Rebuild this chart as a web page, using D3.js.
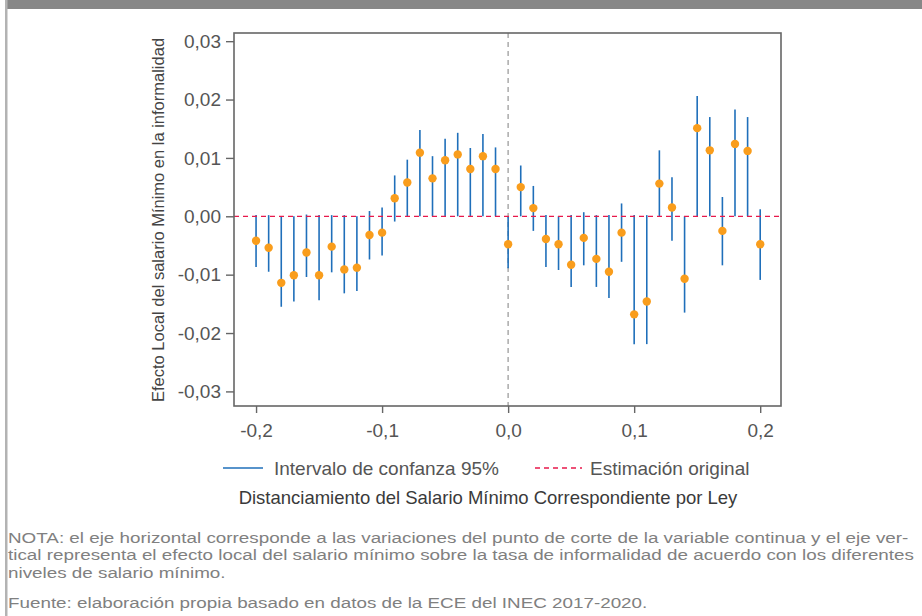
<!DOCTYPE html>
<html>
<head>
<meta charset="utf-8">
<script src="https://cdn.jsdelivr.net/npm/d3@7"></script>
<style>
  html, body { margin: 0; padding: 0; background: #fff; }
  svg { display: block; font-family: "Liberation Sans", Arial, sans-serif; }
</style>
</head>
<body>
<div id="chart"></div>
<script>
// cut-off shifts (x) and local effect estimates
const cutoffs = [-0.20, -0.19, -0.18, -0.17, -0.16, -0.15, -0.14, -0.13, -0.12, -0.11,
                 -0.10, -0.09, -0.08, -0.07, -0.06, -0.05, -0.04, -0.03, -0.02, -0.01,
                  0.00,  0.01,  0.02,  0.03,  0.04,  0.05,  0.06,  0.07,  0.08,  0.09,
                  0.10,  0.11,  0.12,  0.13,  0.14,  0.15,  0.16,  0.17,  0.18,  0.19, 0.20];
const estimates = [-0.0042, -0.0054, -0.0114, -0.0101, -0.0062, -0.0101, -0.0052, -0.0091, -0.0088, -0.0032,
                   -0.0028,  0.0031,  0.0058,  0.0109,  0.0065,  0.0096,  0.0106,  0.0081,  0.0103,  0.0081,
                   -0.0048,  0.0050,  0.0014, -0.0039, -0.0048, -0.0083, -0.0037, -0.0073, -0.0095, -0.0028,
                   -0.0168, -0.0146,  0.0056,  0.0015, -0.0107,  0.0151,  0.0113, -0.0025,  0.0124,  0.0112, -0.0048];
const ciUpper = [ 0.0002,  0.0002,  0.0000,  0.0000,  0.0003,  0.0002,  0.0002,  0.0002,  0.0000,  0.0009,
                  0.0015,  0.0070,  0.0097,  0.0148,  0.0103,  0.0133,  0.0143,  0.0117,  0.0141,  0.0118,
                  0.0000,  0.0087,  0.0052,  0.0002,  0.0000,  0.0002,  0.0007,  0.0002,  0.0002,  0.0022,
                  0.0002,  0.0002,  0.0113,  0.0067,  0.0000,  0.0206,  0.0170,  0.0033,  0.0183,  0.0170,  0.0012];
const ciLower = [-0.0087, -0.0095, -0.0155, -0.0146, -0.0104, -0.0144, -0.0096, -0.0132, -0.0128, -0.0074,
                 -0.0067, -0.0009,  0.0000,  0.0000,  0.0000,  0.0000,  0.0000,  0.0000,  0.0000,  0.0000,
                 -0.0089,  0.0000, -0.0025, -0.0087, -0.0092, -0.0121, -0.0084, -0.0121, -0.0140, -0.0078,
                 -0.0219, -0.0219,  0.0000, -0.0042, -0.0165,  0.0000,  0.0000, -0.0084,  0.0000,  0.0000, -0.0109];

const xTicks = [-0.2, -0.1, 0, 0.1, 0.2];
const yTicks = [-0.03, -0.02, -0.01, 0, 0.01, 0.02, 0.03];
const noteLines = [
  "NOTA: el eje horizontal corresponde a las variaciones del punto de corte de la variable continua y el eje ver-",
  "tical representa el efecto local del salario mínimo sobre la tasa de informalidad de acuerdo con los diferentes",
  "niveles de salario mínimo."
];
const sourceLine = "Fuente: elaboración propia basado en datos de la ECE del INEC 2017-2020.";

const width = 922, height = 616;
const margin = { top: 33, right: 141, bottom: 210, left: 234 };
const w = width - margin.left - margin.right;
const h = height - margin.top - margin.bottom;

const comma = f => d => d3.format(f)(d).replace(".", ",").replace("−", "-");

const svg = d3.select("#chart").append("svg")
  .attr("width", width)
  .attr("height", height);

// page decoration: grey band on top and thin rule on the left
svg.append("rect").attr("x", 7).attr("y", 0).attr("width", width - 7).attr("height", 9).attr("fill", "#878787");
svg.append("rect").attr("x", 5).attr("y", 0).attr("width", 2.5).attr("height", height).attr("fill", "#b3b3b3");

const x = d3.scaleLinear().domain([-0.2175, 0.2165]).range([0, w]);
const y = d3.scaleLinear().domain([-0.0325, 0.0314]).range([h, 0]);

const g = svg.append("g").attr("transform", `translate(${margin.left},${margin.top})`);

const data = cutoffs.map((c, i) => ({ c, est: estimates[i], lo: ciLower[i], hi: ciUpper[i] }));

// vertical reference at 0
g.append("line")
  .attr("x1", x(0)).attr("x2", x(0))
  .attr("y1", 0).attr("y2", h)
  .attr("stroke", "#aaaaaa").attr("stroke-width", 1.5)
  .attr("stroke-dasharray", "5,4");

// confidence intervals
g.selectAll(".ci")
  .data(data)
  .enter().append("line")
  .attr("class", "ci")
  .attr("x1", d => x(d.c)).attr("x2", d => x(d.c))
  .attr("y1", d => y(d.hi)).attr("y2", d => y(d.lo))
  .attr("stroke", "#1f6fba").attr("stroke-width", 1.6);

// original estimate line at 0
g.append("line")
  .attr("x1", 0).attr("x2", w)
  .attr("y1", y(0)).attr("y2", y(0))
  .attr("stroke", "#e8194b").attr("stroke-width", 1.3)
  .attr("stroke-dasharray", "5,4");

// point estimates
g.selectAll(".pt")
  .data(data)
  .enter().append("circle")
  .attr("class", "pt")
  .attr("cx", d => x(d.c)).attr("cy", d => y(d.est))
  .attr("r", 4.2)
  .attr("fill", "#f99d1c");

// frame
g.append("rect")
  .attr("width", w).attr("height", h)
  .attr("fill", "none").attr("stroke", "#666").attr("stroke-width", 1.6);

// axes
const yAxis = g.append("g")
  .call(d3.axisLeft(y).tickValues(yTicks).tickSize(8).tickPadding(5).tickFormat(comma(".2f")));
const xAxis = g.append("g")
  .attr("transform", `translate(0,${h})`)
  .call(d3.axisBottom(x).tickValues(xTicks).tickSize(7).tickPadding(11).tickFormat(comma(".1f")));

[yAxis, xAxis].forEach(a => {
  a.select(".domain").remove();
  a.selectAll(".tick line").attr("stroke", "#666").attr("stroke-width", 1.4);
  a.selectAll(".tick text").attr("fill", "#555").style("font-size", "19px")
    .style("font-family", "'Liberation Sans', Arial, sans-serif");
});

// y title
svg.append("text")
  .attr("transform", `translate(164,220) rotate(-90)`)
  .attr("text-anchor", "middle")
  .attr("fill", "#444")
  .style("font-size", "16.5px")
  .text("Efecto Local del salario Mínimo en la informalidad");

// legend
const leg = svg.append("g").attr("transform", "translate(0,468)");
leg.append("line").attr("x1", 223).attr("x2", 263).attr("y1", 0).attr("y2", 0)
  .attr("stroke", "#1f6fba").attr("stroke-width", 1.5);
leg.append("text").attr("x", 274).attr("y", 6.5).attr("fill", "#555").style("font-size", "19px")
  .text("Intervalo de confanza 95%");
leg.append("line").attr("x1", 535).attr("x2", 582).attr("y1", 0).attr("y2", 0)
  .attr("stroke", "#e8194b").attr("stroke-width", 1.3).attr("stroke-dasharray", "5,4");
leg.append("text").attr("x", 590).attr("y", 6.5).attr("fill", "#555").style("font-size", "19px")
  .text("Estimación original");

// x title
svg.append("text")
  .attr("x", 488).attr("y", 504)
  .attr("text-anchor", "middle")
  .attr("fill", "#3a3a3a")
  .style("font-size", "18.5px")
  .text("Distanciamiento del Salario Mínimo Correspondiente por Ley");

// notes: the source text is set in a wide face, so stretch horizontally
const notes = svg.append("g").attr("transform", "translate(8,0) scale(1.255,1)");
notes.selectAll(".note")
  .data(noteLines)
  .enter().append("text")
  .attr("class", "note")
  .attr("x", 0).attr("y", (d, i) => 543 + i * 17.5)
  .attr("fill", "#808080")
  .style("font-size", "15px")
  .text(d => d);

notes.append("text")
  .attr("x", 0).attr("y", 608)
  .attr("fill", "#808080")
  .style("font-size", "15px")
  .text(sourceLine);
</script>
</body>
</html>
